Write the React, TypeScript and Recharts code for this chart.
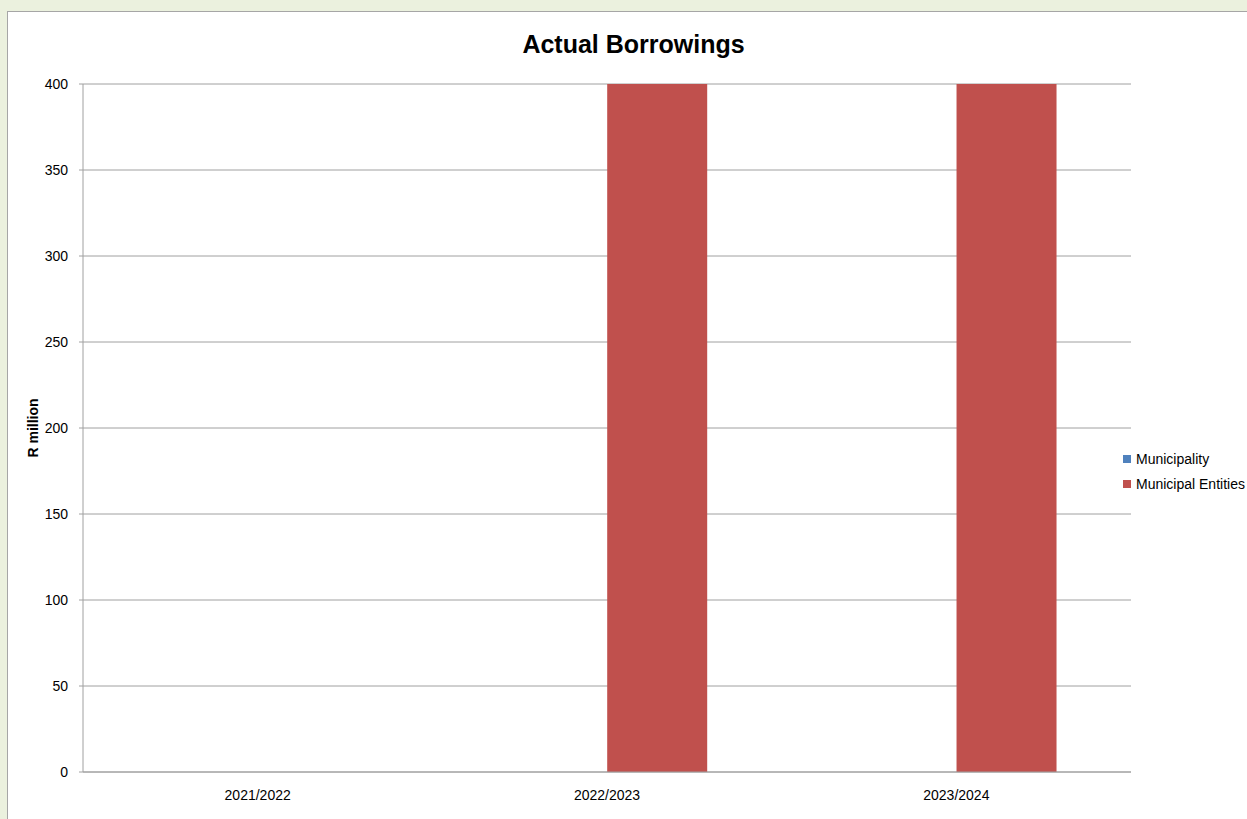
import { BarChart, Bar, XAxis, YAxis, CartesianGrid, Legend } from "recharts";

const categories = ["2021/2022", "2022/2023", "2023/2024"];
const municipality = [0, 0, 0];
const municipalEntities = [0, 400, 400];
const yTicks = [0, 50, 100, 150, 200, 250, 300, 350, 400];

const data = categories.map((name, i) => ({
  name,
  municipality: municipality[i],
  entities: municipalEntities[i],
}));

const FONT = "'Liberation Sans', Arial, sans-serif";
const GRID = "#a0a0a0";

const series = [
  { key: "municipality", label: "Municipality", color: "#4f81bd" },
  { key: "entities", label: "Municipal Entities", color: "#c0504d" },
];

function LegendBox() {
  return (
    <div style={{ fontFamily: FONT, fontSize: 14, color: "#000" }}>
      {series.map((s) => (
        <div key={s.key} style={{ display: "flex", alignItems: "center", height: 25 }}>
          <span style={{ width: 8, height: 8, background: s.color, marginRight: 5, display: "inline-block" }} />
          <span>{s.label}</span>
        </div>
      ))}
    </div>
  );
}

export default function App() {
  return (
    <div style={{ position: "fixed", left: 0, top: 0, width: 1247, height: 819, background: "#ebf1de", overflow: "hidden" }}>
      <div
        style={{
          position: "absolute",
          left: 7,
          top: 11,
          width: 1260,
          height: 830,
          background: "#fff",
          borderLeft: "1px solid #a6a6a6",
          borderTop: "1px solid #a6a6a6",
        }}
      />
      <div
        style={{
          position: "absolute",
          left: 0,
          width: 1267,
          top: 30,
          textAlign: "center",
          fontFamily: FONT,
          fontWeight: "bold",
          fontSize: 25,
        }}
      >
        Actual Borrowings
      </div>
      <div
        style={{
          position: "absolute",
          left: 33,
          top: 428,
          transform: "translate(-50%, -50%) rotate(-90deg)",
          fontFamily: FONT,
          fontWeight: "bold",
          fontSize: 14,
          whiteSpace: "nowrap",
        }}
      >
        R million
      </div>
      <div style={{ position: "absolute", left: 0, top: 0 }}>
        <BarChart
          width={1247}
          height={819}
          data={data}
          margin={{ top: 84, right: 116, bottom: 0, left: 0 }}
          barCategoryGap="21.43%"
          barGap={0}
        >
          <CartesianGrid vertical={false} stroke={GRID} strokeWidth={1} />
          <XAxis
            dataKey="name"
            height={47}
            tickLine={false}
            axisLine={{ stroke: GRID }}
            tick={{ fontFamily: FONT, fontSize: 14, fill: "#000" }}
            tickMargin={12}
          />
          <YAxis
            width={83}
            domain={[0, 400]}
            ticks={yTicks}
            interval={0}
            tickSize={4}
            tickMargin={11}
            tickLine={{ stroke: GRID }}
            axisLine={{ stroke: GRID }}
            tick={{ fontFamily: FONT, fontSize: 14, fill: "#000" }}
          />
          <Legend
            layout="horizontal"
            verticalAlign="middle"
            align="center"
            content={() => <LegendBox />}
            wrapperStyle={{ left: 1123, top: 446, width: 130, right: "auto", bottom: "auto" }}
          />
          {series.map((s) => (
            <Bar key={s.key} dataKey={s.key} fill={s.color} isAnimationActive={false} legendType="square" />
          ))}
        </BarChart>
      </div>
    </div>
  );
}
